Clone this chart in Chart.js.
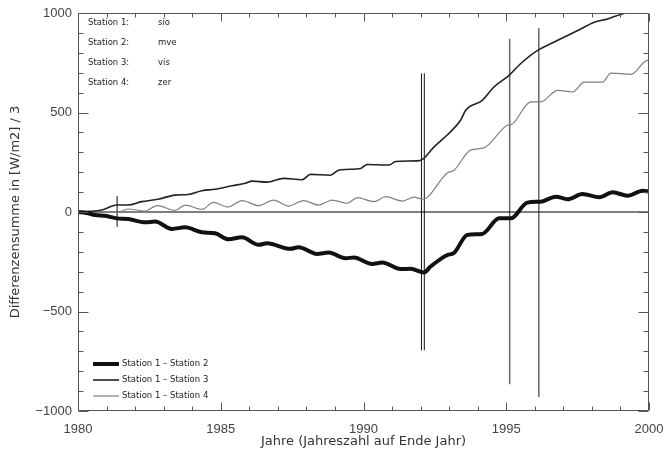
<!DOCTYPE html>
<html>
<head>
<meta charset="utf-8">
<script src="https://cdn.jsdelivr.net/npm/chart.js@4"></script>
<style>
  html, body { margin: 0; padding: 0; background: #fff; }
</style>
</head>
<body>
<canvas id="chart" width="665" height="455"></canvas>
<script>
// Station 1 - Station 2 (thick)
const s12Years = [1980.0, 1980.3, 1980.6, 1981.0, 1981.36, 1981.75, 1982.35, 1982.7, 1983.29, 1983.75,
  1984.34, 1984.8, 1985.27, 1985.74, 1986.33, 1986.62, 1987.44, 1987.73, 1988.37, 1988.78,
  1989.37, 1989.66, 1990.3, 1990.66, 1991.3, 1991.65, 1992.12, 1992.35, 1992.94, 1993.16,
  1993.64, 1994.16, 1994.75, 1995.16, 1995.74, 1996.21, 1996.74, 1997.15, 1997.67, 1998.26,
  1998.73, 1999.25, 1999.78, 2000.0];
const s12Values = [0, -5, -15, -20, -32, -35, -52, -48, -85, -77,
  -102, -107, -137, -127, -165, -157, -185, -177, -211, -204,
  -232, -229, -261, -254, -287, -285, -304, -274, -216, -207,
  -115, -110, -32, -32, 47, 52, 77, 64, 90, 74,
  99, 82, 107, 102];

// Station 1 - Station 3 (medium)
const s13Years = [1980.0, 1980.4, 1980.83, 1981.36, 1981.75, 1982.23, 1982.8, 1983.4, 1983.86, 1984.34,
  1984.8, 1985.4, 1985.86, 1986.1, 1986.62, 1987.2, 1987.85, 1988.14, 1988.84, 1989.13,
  1989.9, 1990.13, 1990.9, 1991.12, 1991.88, 1992.08, 1992.47, 1993.05, 1993.4, 1993.58,
  1994.16, 1994.57, 1995.1, 1995.5, 1996.1, 1996.68, 1997.15, 1997.61, 1998.08, 1998.55,
  1999.0, 1999.5, 2000.0];
const s13Values = [0, 3, 10, 35, 35, 52, 64, 85, 88, 107,
  114, 132, 144, 155, 150, 169, 162, 189, 185, 210,
  219, 239, 236, 254, 257, 266, 327, 403, 461, 511,
  561, 628, 687, 745, 812, 854, 887, 920, 954, 970,
  993, 1012, 1030];

// Station 1 - Station 4 (thin grey)
const s14Years = [1980.0, 1980.5, 1981.0, 1981.37, 1981.75, 1982.35, 1982.77, 1983.4, 1983.75, 1984.35,
  1984.74, 1985.26, 1985.75, 1986.33, 1986.85, 1987.38, 1987.9, 1988.43, 1988.9, 1989.43,
  1989.78, 1990.37, 1990.77, 1991.37, 1991.77, 1992.07, 1992.94, 1993.17, 1993.75, 1994.22,
  1995.04, 1995.2, 1995.86, 1996.2, 1996.8, 1997.32, 1997.73, 1998.37, 1998.67, 1999.37,
  1999.95, 2000.0];
const s14Values = [0, 2, 0, -3, 15, 5, 32, 8, 35, 13,
  48, 25, 57, 32, 60, 30, 57, 35, 60, 44,
  72, 52, 77, 55, 75, 64, 197, 210, 311, 322,
  436, 441, 553, 553, 611, 603, 653, 653, 698, 692,
  762, 760];

// vertical marker lines
const markerYears = [1981.37, 1992.03, 1992.13, 1995.12, 1996.14];
const markerLow = [-75, -695, -695, -865, -930];
const markerHigh = [80, 697, 697, 870, 925];

const stationNames = ['Station 1:', 'Station 2:', 'Station 3:', 'Station 4:'];
const stationCodes = ['sio', 'mve', 'vis', 'zer'];
const seriesLabels = ['Station 1 \u2013 Station 2', 'Station 1 \u2013 Station 3', 'Station 1 \u2013 Station 4'];

const xTitle = 'Jahre (Jahreszahl auf Ende Jahr)';
const yTitle = 'Differenzensumme in [W/m2] / 3';

const toPoints = (xs, ys) => xs.map((x, i) => ({ x, y: ys[i] }));

const lineStyles = [
  { color: '#111', width: 4 },
  { color: '#222', width: 1.6 },
  { color: '#808080', width: 1.2 }
];

const datasets = [
  { data: toPoints(s12Years, s12Values), borderColor: lineStyles[0].color, borderWidth: lineStyles[0].width },
  { data: toPoints(s13Years, s13Values), borderColor: lineStyles[1].color, borderWidth: lineStyles[1].width },
  { data: toPoints(s14Years, s14Values), borderColor: lineStyles[2].color, borderWidth: lineStyles[2].width },
  { data: [{ x: 1980, y: 0 }, { x: 2000, y: 0 }], borderColor: '#000', borderWidth: 1, cubicInterpolationMode: 'default', tension: 0 }
];

markerYears.forEach((yr, i) => {
  const far = i >= 3;
  datasets.push({
    data: [{ x: yr, y: markerLow[i] }, { x: yr, y: markerHigh[i] }],
    borderColor: far ? '#666' : '#111',
    borderWidth: far ? 1.5 : 1,
    cubicInterpolationMode: 'default',
    tension: 0
  });
});

const framePlugin = {
  id: 'frame',
  afterDraw(chart) {
    const { ctx, chartArea: a, scales: { x, y } } = chart;
    const L = Math.round(a.left) + 0.5, R = Math.round(a.right) - 0.5;
    const T = Math.round(a.top) + 0.5, B = Math.round(a.bottom) - 0.5;
    ctx.save();
    ctx.strokeStyle = '#555';
    ctx.lineWidth = 1;
    ctx.beginPath();
    ctx.rect(L, T, R - L, B - T);
    x.ticks.forEach(t => {
      const px = Math.round(x.getPixelForValue(t.value)) + 0.5;
      const len = t.value % 5 === 0 ? 8 : 4;
      ctx.moveTo(px, B); ctx.lineTo(px, B - len);
      ctx.moveTo(px, T); ctx.lineTo(px, T + len);
    });
    y.ticks.forEach(t => {
      const py = Math.round(y.getPixelForValue(t.value)) + 0.5;
      const len = t.value % 500 === 0 ? 10 : 5;
      ctx.moveTo(L, py); ctx.lineTo(L + len, py);
      ctx.moveTo(R, py); ctx.lineTo(R - len, py);
    });
    ctx.stroke();

    // station table, top left
    ctx.fillStyle = '#222';
    ctx.font = '8.5px "DejaVu Sans"';
    ctx.textBaseline = 'middle';
    stationNames.forEach((name, i) => {
      const yy = 23 + i * 20;
      ctx.fillText(name, 88, yy);
      ctx.fillText(stationCodes[i], 158, yy);
    });

    // series legend, bottom left
    seriesLabels.forEach((label, i) => {
      const yy = 364 + i * 16;
      ctx.strokeStyle = lineStyles[i].color;
      ctx.lineWidth = lineStyles[i].width;
      ctx.beginPath();
      ctx.moveTo(93, yy); ctx.lineTo(119, yy);
      ctx.stroke();
      ctx.fillText(label, 122, yy);
    });
    ctx.restore();
  }
};

const tickFont = { family: '"Liberation Sans", Arial, sans-serif', size: 13 };
const titleFont = { family: '"DejaVu Sans", sans-serif', size: 13 };

new Chart(document.getElementById('chart').getContext('2d'), {
  type: 'scatter',
  data: { datasets },
  options: {
    responsive: false,
    animation: false,
    devicePixelRatio: 1,
    layout: { padding: { top: 13, right: 16, left: 0, bottom: 0 } },
    elements: {
      point: { radius: 0, hoverRadius: 0 },
      line: { cubicInterpolationMode: 'monotone', fill: false }
    },
    datasets: { scatter: { showLine: true } },
    plugins: { legend: { display: false }, tooltip: { enabled: false } },
    scales: {
      x: {
        type: 'linear', min: 1980, max: 2000,
        grid: { display: false, drawTicks: false }, border: { display: false },
        ticks: {
          stepSize: 1, autoSkip: false, maxRotation: 0, padding: 11,
          color: '#444', font: tickFont,
          callback: v => (v % 5 === 0 ? String(v) : '')
        },
        title: { display: true, text: xTitle, color: '#333', font: titleFont, padding: { top: 0, bottom: 6 } },
        afterFit: s => { s.height = 44; s.paddingLeft = 0; s.paddingRight = 0; }
      },
      y: {
        type: 'linear', min: -1000, max: 1000,
        grid: { display: false, drawTicks: false }, border: { display: false },
        ticks: {
          stepSize: 100, autoSkip: false, padding: 6,
          color: '#444', font: tickFont,
          callback: v => (v % 500 === 0 ? (v < 0 ? '\u2212' + Math.abs(v) : String(v)) : '')
        },
        title: { display: true, text: yTitle, color: '#333', font: titleFont, padding: { top: 8, bottom: 0 } },
        afterFit: s => { s.width = 78; s.paddingTop = 0; s.paddingBottom = 0; }
      }
    }
  },
  plugins: [framePlugin]
});
</script>
</body>
</html>
